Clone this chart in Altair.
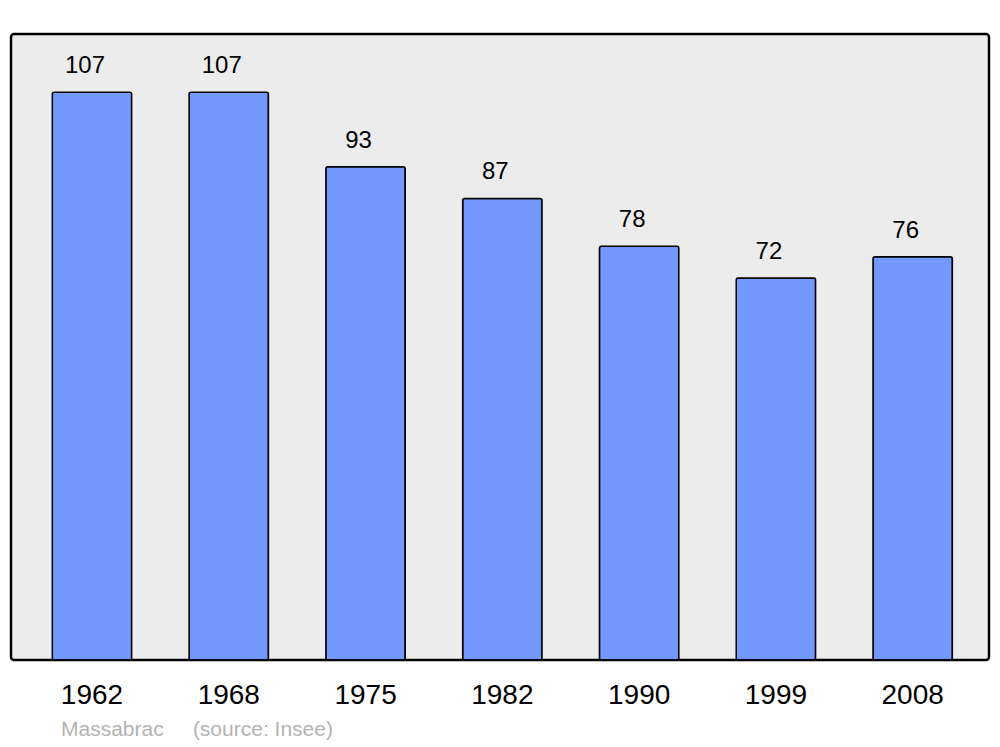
import altair as alt
import pandas as pd

years = ["1962", "1968", "1975", "1982", "1990", "1999", "2008"]
population = [107, 107, 93, 87, 78, 72, 76]

df = pd.DataFrame({"year": years, "pop": population})

FONT = "Liberation Sans"

x = alt.X("year:N", sort=years,
          scale=alt.Scale(paddingInner=0.42, paddingOuter=0.285, align=0.53),
          axis=alt.Axis(title=None, labelAngle=0, labelFontSize=28, labelColor="black",
                        labelFont=FONT, ticks=False, domain=False, labelPadding=21,
                        labelBaseline="top"))
y = alt.Y("pop:Q", scale=alt.Scale(domain=[0, 118], nice=False, zero=True), axis=None)

bars = alt.Chart(df).mark_bar(
    color="#7399ff", stroke="black", strokeWidth=1.5, cornerRadius=2
).encode(x=x, y=y)

labels = alt.Chart(df).mark_text(
    baseline="alphabetic", align="center", dy=-19, dx=-7, fontSize=24, font=FONT, color="black"
).encode(x=x, y=y, text="pop:Q")

chart = (bars + labels).properties(
    width=978, height=626,
    background="white",
    padding={"left": 3, "top": 26, "right": 3, "bottom": 82},
    autosize=alt.AutoSizeParams(type="none"),
    title=alt.TitleParams(
        text="Massabrac\u00a0\u00a0\u00a0\u00a0\u00a0(source: Insee)",
        orient="bottom", anchor="start", dx=50, offset=10,
        fontSize=21, font=FONT, fontWeight="normal", color="#b3b3b3",
    ),
).configure_view(
    fill="#ececec", stroke="black", strokeWidth=2.5, cornerRadius=3
)

chart.save("out.html", embed_options={"renderer": "svg", "actions": False})
